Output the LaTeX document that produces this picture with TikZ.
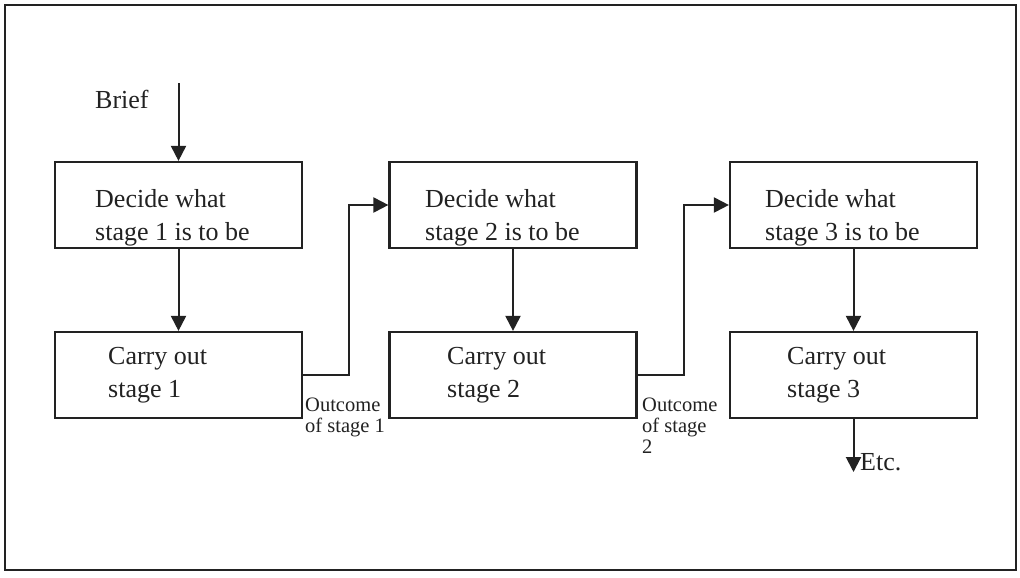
\documentclass[tikz,border=0pt]{standalone}
\usepackage{fontspec}
\setmainfont{Liberation Serif}
\usetikzlibrary{arrows.meta}
\definecolor{ink}{HTML}{222222}
\tikzset{
  box/.style={draw=ink, line width=2.2pt, minimum width=247pt, minimum height=86pt, inner sep=0pt},
  txt/.style={text=ink, font=\fontsize{26}{33}\selectfont, align=left, inner sep=0pt, anchor=base west},
  small/.style={text=ink, font=\fontsize{20.5}{21}\selectfont, align=left, inner sep=0pt, anchor=base west},
  conn/.style={draw=ink, line width=2pt},
  arr/.style={conn, -{Triangle[length=15pt,width=15pt]}}
}
\begin{document}
\begin{tikzpicture}[x=1pt,y=-1pt]
\useasboundingbox (0,0) rectangle (1020,578);
\fill[white] (0,0) rectangle (1020,578);
\draw[draw=ink, line width=2.6pt] (5,5) rectangle (1016,570);

% boxes
\node[box] (a1) at (178.5,205) {};
\node[box] (b1) at (178.5,375) {};
\node[box] (a2) at (513,205) {};
\node[box] (b2) at (513,375) {};
\node[box] (a3) at (853.5,205) {};
\node[box] (b3) at (853.5,375) {};

% box texts (anchor = baseline of last line)
\node[txt] (ta1) at (95,240) {Decide what\\stage 1 is to be};
\node[txt] (ta2) at (425,240) {Decide what\\stage 2 is to be};
\node[txt] (ta3) at (765,240) {Decide what\\stage 3 is to be};
\node[txt] (tb1) at (108,397) {Carry out\\stage 1};
\node[txt] (tb2) at (447,397) {Carry out\\stage 2};
\node[txt] (tb3) at (787,397) {Carry out\\stage 3};

% other labels
\node[txt] (brief) at (95,108) {Brief};
\node[txt] (etc) at (860,470) {Etc.};
\node[small] (o1) at (305,432) {Outcome\\of stage 1};
\node[small] (o2) at (642,453) {Outcome\\of stage\\2};

% connectors
\coordinate (start) at (178.5,83);
\coordinate (end) at (853.5,472);
\draw[arr] (start) -- (a1.north);
\draw[arr] (a1.south) -- (b1.north);
\draw[arr] (b1.east) -- ++(46,0) |- (a2.west);
\draw[arr] (a2.south) -- (b2.north);
\draw[arr] (b2.east) -- ++(46,0) |- (a3.west);
\draw[arr] (a3.south) -- (b3.north);
\draw[arr] (b3.south) -- (end);
\end{tikzpicture}
\end{document}
